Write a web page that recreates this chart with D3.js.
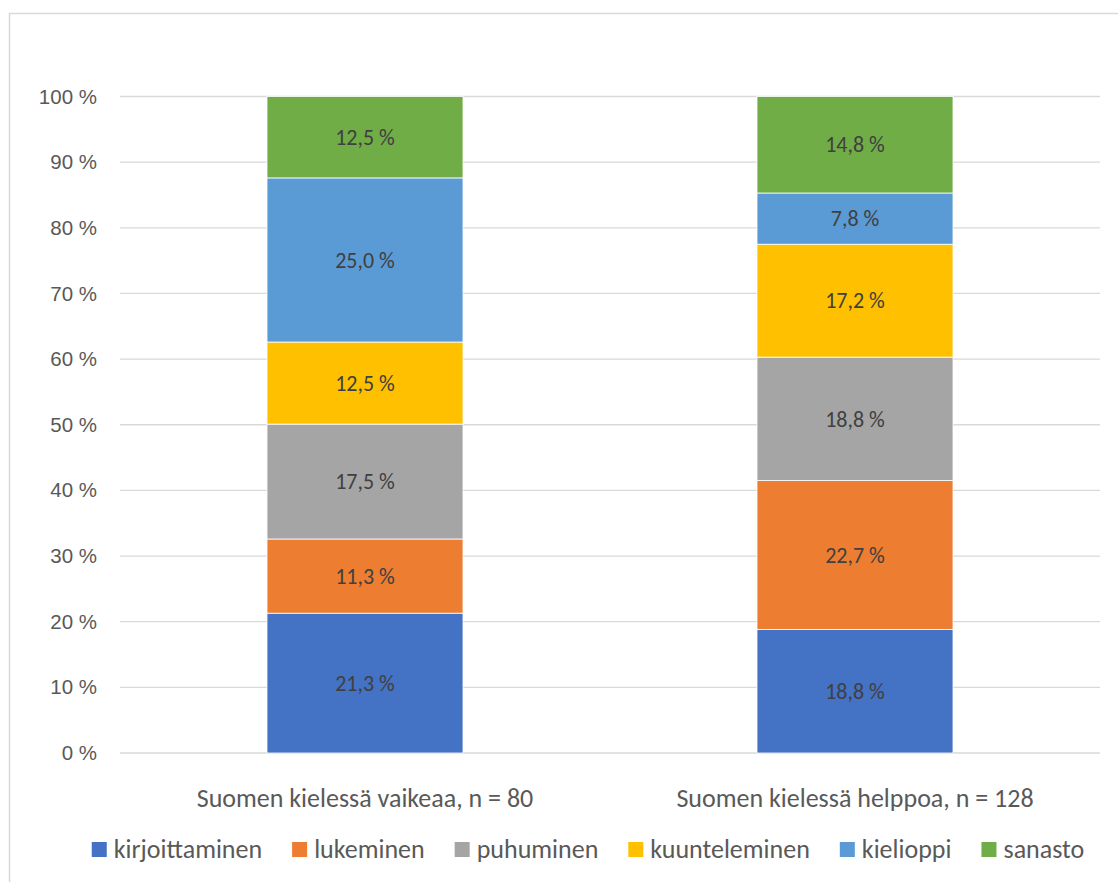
<!DOCTYPE html>
<html>
<head>
<meta charset="utf-8">
<script src="https://cdn.jsdelivr.net/npm/d3@7"></script>
<style>
  body { margin: 0; background: #fff; }
  svg { font-family: Carlito, Lato, "Open Sans", sans-serif; }
</style>
</head>
<body>
<div id="chart"></div>
<script>
// Categories, series and values
const categories = ["Suomen kielessä vaikeaa, n = 80", "Suomen kielessä helppoa, n = 128"];
const seriesNames = ["kirjoittaminen", "lukeminen", "puhuminen", "kuunteleminen", "kielioppi", "sanasto"];
const seriesColors = ["#4472c4", "#ed7d31", "#a5a5a5", "#ffc000", "#5b9bd5", "#70ad47"];
const vaikeaaValues = [21.3, 11.3, 17.5, 12.5, 25.0, 12.5];
const helppoaValues = [18.8, 22.7, 18.8, 17.2, 7.8, 14.8];
const yTicks = [0, 10, 20, 30, 40, 50, 60, 70, 80, 90, 100];

const W = 1118, H = 882;
const plot = { left: 120, right: 1100, top: 96.5, bottom: 753 };

const svg = d3.select("#chart").append("svg")
    .attr("width", W)
    .attr("height", H);

// Chart area border (runs off the right/bottom edge like the reference)
svg.append("rect")
    .attr("x", 9.5).attr("y", 13.5)
    .attr("width", 1130).attr("height", 900)
    .attr("fill", "none")
    .attr("stroke", "#d9d9d9")
    .attr("stroke-width", 1.5);

const x = d3.scaleBand()
    .domain(categories)
    .range([plot.left, plot.right])
    .paddingInner(0.6)
    .paddingOuter(0.3);

const y = d3.scaleLinear()
    .domain([0, 100])
    .range([plot.bottom, plot.top])
    .clamp(true);

// Gridlines
svg.append("g")
    .selectAll("line")
    .data(yTicks)
    .enter().append("line")
    .attr("x1", plot.left).attr("x2", plot.right)
    .attr("y1", d => y(d)).attr("y2", d => y(d))
    .attr("stroke", "#d9d9d9")
    .attr("stroke-width", 1.3);

// Y axis labels
const yAxis = svg.append("g")
    .attr("transform", `translate(${plot.left},0)`)
    .call(d3.axisLeft(y).tickValues(yTicks).tickSize(0).tickPadding(23).tickFormat(d => d + " %"));
yAxis.select(".domain").remove();
yAxis.selectAll("text")
    .attr("fill", "#595959")
    .style("font-size", "20.5px");

// Stack the data
const tableRows = categories.map((c, i) => {
    const vals = i === 0 ? vaikeaaValues : helppoaValues;
    const row = { category: c };
    seriesNames.forEach((s, j) => { row[s] = vals[j]; });
    return row;
});
const stacked = d3.stack().keys(seriesNames)(tableRows);

const layers = svg.append("g")
    .selectAll("g")
    .data(stacked)
    .enter().append("g")
    .attr("fill", (d, i) => seriesColors[i]);

layers.selectAll("rect")
    .data(d => d)
    .enter().append("rect")
    .attr("x", d => x(d.data.category))
    .attr("y", d => y(d[1]))
    .attr("width", x.bandwidth())
    .attr("height", d => y(d[0]) - y(d[1]))
    .attr("stroke", "#ffffff")
    .attr("stroke-width", 0.8);

// Data labels
layers.each(function (layer) {
    d3.select(this).selectAll("text")
        .data(layer)
        .enter().append("text")
        .attr("x", d => x(d.data.category) + x.bandwidth() / 2)
        .attr("y", d => (y(d[0]) + y(d[1])) / 2)
        .attr("dy", "0.35em")
        .attr("text-anchor", "middle")
        .attr("fill", "#404040")
        .style("font-size", "22px")
        .text(d => d3.format(".1f")(d.data[layer.key]).replace(".", ",") + " %");
});

// Category labels
svg.append("g")
    .selectAll("text")
    .data(categories)
    .enter().append("text")
    .attr("x", d => x(d) + x.bandwidth() / 2)
    .attr("y", 798)
    .attr("dy", "0.35em")
    .attr("text-anchor", "middle")
    .attr("fill", "#595959")
    .style("font-size", "26px")
    .text(d => d);

// Legend
const legend = svg.append("g");
const items = legend.selectAll("g")
    .data(seriesNames)
    .enter().append("g");
items.append("rect")
    .attr("width", 15).attr("height", 15)
    .attr("y", 842)
    .attr("fill", (d, i) => seriesColors[i]);
items.append("text")
    .attr("x", 22)
    .attr("y", 849)
    .attr("dy", "0.35em")
    .attr("fill", "#595959")
    .style("font-size", "26px")
    .text(d => d);

let widths = [];
items.each(function () {
    widths.push(22 + this.querySelector("text").getComputedTextLength());
});
const gap = 30;
const total = d3.sum(widths) + gap * (widths.length - 1);
let cursor = (94 + 1082) / 2 - total / 2;
items.attr("transform", (d, i) => {
    const t = `translate(${cursor},0)`;
    cursor += widths[i] + gap;
    return t;
});
</script>
</body>
</html>
